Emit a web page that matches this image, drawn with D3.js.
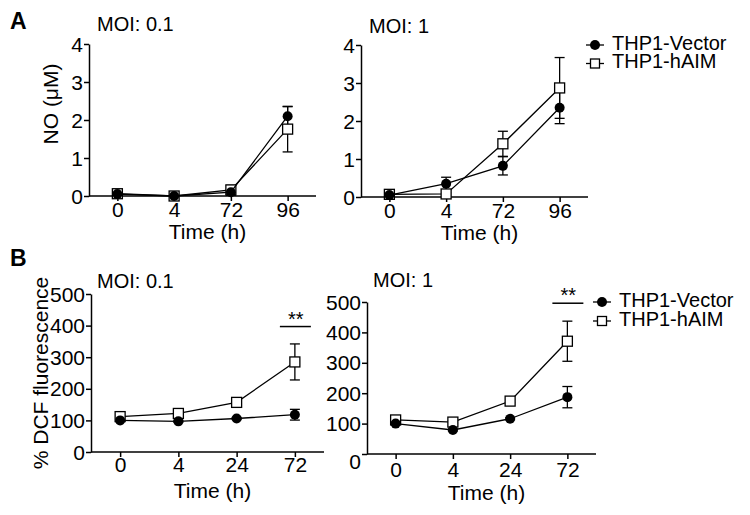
<!DOCTYPE html>
<html>
<head>
<meta charset="utf-8">
<script src="https://cdn.jsdelivr.net/npm/d3@7"></script>
<style>
  body { margin: 0; background: #fff; }
  text { font-family: "Liberation Sans", Arial, sans-serif; fill: #000; }
</style>
</head>
<body>
<svg width="750" height="515"></svg>
<script>
// time points
var timesA = ["0", "4", "72", "96"];
var timesB = ["0", "4", "24", "72"];

// A: NO (uM)
var noVec01 = [0.05, 0.0, 0.1, 2.1];
var noVec01Err = [0.03, 0.02, 0.08, 0.25];
var noAim01 = [0.06, 0.0, 0.16, 1.76];
var noAim01Err = [0.03, 0.02, 0.12, 0.6];
var noVec1 = [0.05, 0.35, 0.82, 2.35];
var noVec1Err = [0.03, 0.17, 0.24, 0.42];
var noAim1 = [0.07, 0.08, 1.4, 2.87];
var noAim1Err = [0.03, 0.03, 0.33, 0.8];

// B: % DCF fluorescence
var dcfVec01 = [100, 97, 106, 118];
var dcfVec01Err = [3, 3, 3, 17];
var dcfAim01 = [112, 122, 157, 285];
var dcfAim01Err = [4, 5, 5, 57];
var dcfVec1 = [100, 79, 116, 187];
var dcfVec1Err = [3, 3, 3, 35];
var dcfAim1 = [112, 105, 174, 371];
var dcfAim1Err = [3, 3, 5, 66];

var ticksA = [0, 1, 2, 3, 4];
var ticksB = [0, 100, 200, 300, 400, 500];
var seriesNames = ["THP1-Vector", "THP1-hAIM"];

var svg = d3.select("svg");

function drawPanel(p)
{
    var x = d3.scalePoint().domain(p.times).range([p.x0, p.x1]).padding(0.5);
    var y = d3.scaleLinear().domain([0, p.ymax]).range([p.y0, p.y1]);
    var g = svg.append("g");

    var yAxis = g.append("g")
        .attr("transform", "translate(" + p.x0 + ",0)")
        .call(d3.axisLeft(y).tickValues(p.ticks).tickFormat(d3.format("d"))
              .tickSize(5).tickSizeOuter(0).tickPadding(1));
    yAxis.selectAll("text").style("font-size", "21px")
        .attr("dy", function(d) { return (d == 0 && p.zeroShift) ? "0.7em" : "0.34em"; });

    var xAxis = g.append("g")
        .attr("transform", "translate(0," + p.y0 + ")")
        .call(d3.axisBottom(x).tickSize(5).tickSizeOuter(0).tickPadding(p.xpad));
    xAxis.selectAll("text").style("font-size", "21px");
    xAxis.select(".domain").attr("d", "M" + p.x0 + ",0H" + p.x1);

    g.selectAll(".domain, .tick line").style("stroke", "#000").style("stroke-width", "1.5");

    g.append("text")
     .attr("x", p.titleX).attr("y", p.titleY)
     .style("font-size", "20px")
     .text(p.title);

    g.append("text")
     .attr("x", (p.x0 + p.x1) / 2 + 5).attr("y", p.xlabY)
     .attr("text-anchor", "middle")
     .style("font-size", "21px")
     .text("Time (h)");

    if (p.ylab) {
        g.append("text")
         .attr("transform", "translate(" + p.ylabX + "," + p.ylabY + ") rotate(-90)")
         .attr("text-anchor", "middle")
         .style("font-size", "21px")
         .text(p.ylab);
    }

    var line = d3.line()
        .x(function(d, i) { return x(p.times[i]); })
        .y(function(d) { return y(d); });

    // hAIM drawn first, vector on top
    var series = [
        {vals: p.aim, err: p.aimErr, shape: "square"},
        {vals: p.vec, err: p.vecErr, shape: "circle"}
    ];

    series.forEach(function(s) {
        s.vals.forEach(function(v, i) {
            var cx = x(p.times[i]);
            var hi = y(v + s.err[i]), lo = y(Math.max(0, v - s.err[i]));
            g.append("line").attr("x1", cx).attr("x2", cx).attr("y1", hi).attr("y2", lo)
             .style("stroke", "#000").style("stroke-width", "1.3");
            [hi, lo].forEach(function(yy) {
                g.append("line").attr("x1", cx - 5).attr("x2", cx + 5).attr("y1", yy).attr("y2", yy)
                 .style("stroke", "#000").style("stroke-width", "1.3");
            });
        });
    });

    series.forEach(function(s) {
        g.append("path")
         .datum(s.vals)
         .attr("d", line)
         .style("fill", "none")
         .style("stroke", "#000")
         .style("stroke-width", "1.3");

        s.vals.forEach(function(v, i) {
            var cx = x(p.times[i]), cy = y(v);
            if (s.shape == "square") {
                g.append("rect").attr("x", cx - 5).attr("y", cy - 5).attr("width", 10).attr("height", 10)
                 .style("fill", "white").style("stroke", "#000").style("stroke-width", "1.3");
            } else {
                g.append("circle").attr("cx", cx).attr("cy", cy).attr("r", 5)
                 .style("fill", "#000");
            }
        });
    });

    if (p.sig) {
        var sx = x(p.times[3]);
        g.append("line").attr("x1", sx - 15).attr("x2", sx + 16)
         .attr("y1", y(p.sig)).attr("y2", y(p.sig))
         .style("stroke", "#000").style("stroke-width", "1.5");
        g.append("text")
         .attr("x", sx + 1).attr("y", y(p.sig) - 1)
         .attr("text-anchor", "middle")
         .style("font-size", "20px")
         .text("**");
    }
}

function drawLegend(lx, ly, gap)
{
    seriesNames.forEach(function(name, i) {
        var yy = ly + i * gap;
        svg.append("line").attr("x1", lx - 9).attr("x2", lx + 9).attr("y1", yy).attr("y2", yy)
           .style("stroke", "#000").style("stroke-width", "1.3");
        if (i == 0) {
            svg.append("circle").attr("cx", lx).attr("cy", yy).attr("r", 5).style("fill", "#000");
        } else {
            svg.append("rect").attr("x", lx - 4.5).attr("y", yy - 4.5).attr("width", 9).attr("height", 9)
               .style("fill", "white").style("stroke", "#000").style("stroke-width", "1.3");
        }
        svg.append("text")
           .attr("x", lx + 17).attr("y", yy + 4.5)
           .style("font-size", "20px")
           .text(name);
    });
}

drawPanel({times: timesA, ticks: ticksA, ymax: 4, x0: 89, x1: 316, y0: 196, y1: 44, xpad: 1,
           vec: noVec01, vecErr: noVec01Err, aim: noAim01, aimErr: noAim01Err,
           title: "MOI: 0.1", titleX: 97, titleY: 31, xlabY: 239,
           ylab: "NO (\u03bcM)", ylabX: 58, ylabY: 104});
drawPanel({times: timesA, ticks: ticksA, ymax: 4, x0: 361, x1: 588, y0: 197, y1: 45, xpad: 1,
           vec: noVec1, vecErr: noVec1Err, aim: noAim1, aimErr: noAim1Err,
           title: "MOI: 1", titleX: 369, titleY: 33, xlabY: 240});
drawPanel({times: timesB, ticks: ticksB, ymax: 500, x0: 91, x1: 324, y0: 452, y1: 294, xpad: 0,
           vec: dcfVec01, vecErr: dcfVec01Err, aim: dcfAim01, aimErr: dcfAim01Err,
           title: "MOI: 0.1", titleX: 97, titleY: 288, xlabY: 498, sig: 397,
           ylab: "% DCF fluorescence", ylabX: 48, ylabY: 373});
drawPanel({times: timesB, ticks: ticksB, ymax: 500, x0: 367, x1: 596, y0: 454, y1: 302, xpad: 3,
           vec: dcfVec1, vecErr: dcfVec1Err, aim: dcfAim1, aimErr: dcfAim1Err,
           title: "MOI: 1", titleX: 373, titleY: 287, xlabY: 500, sig: 496, zeroShift: true});

drawLegend(595, 45, 18.5);
drawLegend(602, 302, 19);

svg.append("text").attr("x", 10).attr("y", 29)
   .style("font-size", "23px").style("font-weight", "bold").text("A");
svg.append("text").attr("x", 10).attr("y", 266)
   .style("font-size", "23px").style("font-weight", "bold").text("B");
</script>
</body>
</html>
